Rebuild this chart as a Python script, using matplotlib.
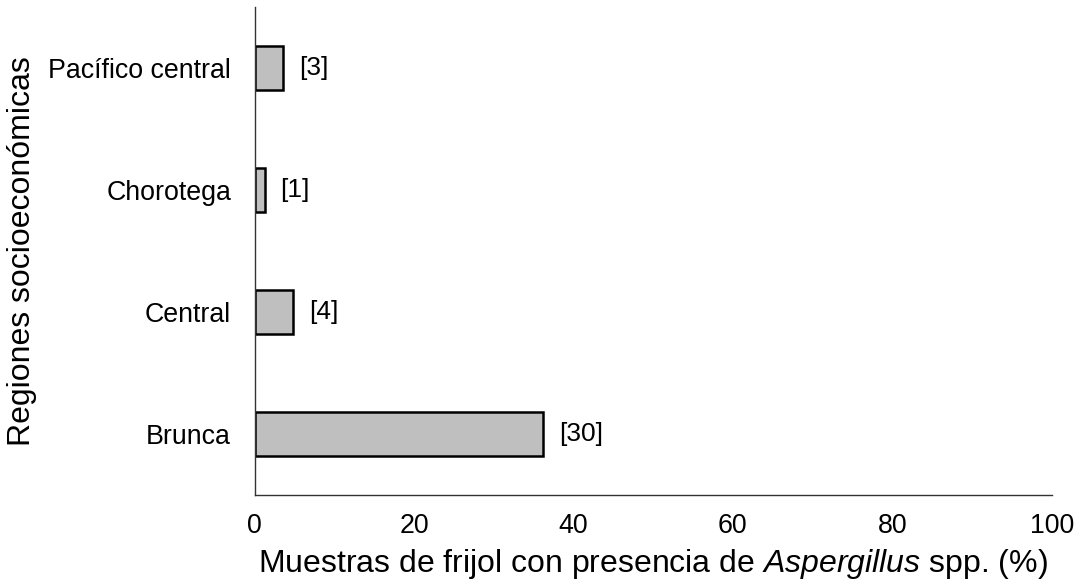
import matplotlib.pyplot as plt

plt.rcParams['font.family'] = ['Liberation Sans', 'DejaVu Sans']
plt.rcParams['mathtext.fontset'] = 'custom'
plt.rcParams['mathtext.it'] = 'Liberation Sans:italic'
plt.rcParams['mathtext.rm'] = 'Liberation Sans'

# data
regiones = ['Brunca', 'Central', 'Chorotega', 'Pacífico central']
porcentaje = [36.2, 4.85, 1.25, 3.6]
n_muestras = [30, 4, 1, 3]

fig = plt.figure(figsize=(10.8, 5.87), dpi=100)
ax = fig.add_axes([0.2358, 0.1567, 0.738, 0.8313])

bars = ax.barh(regiones, porcentaje, height=0.36, color='#bfbfbf',
               edgecolor='black', linewidth=1.8)

# sample counts next to each bar
for b, n in zip(bars, n_muestras):
    ax.text(b.get_width() + 2.0, b.get_y() + b.get_height() / 2, '[%d]' % n,
            va='center', ha='left', fontsize=19)

ax.set_xlim(0, 100)
ax.set_ylim(-0.5, 3.5)
ax.set_xticks([0, 20, 40, 60, 80, 100])

ax.spines['top'].set_visible(False)
ax.spines['right'].set_visible(False)
ax.spines['left'].set_color('#333333')
ax.spines['bottom'].set_color('#333333')
ax.spines['left'].set_linewidth(1.0)
ax.spines['bottom'].set_linewidth(1.0)

ax.tick_params(axis='both', length=0, labelsize=19.3)
ax.tick_params(axis='y', pad=17)
ax.tick_params(axis='x', pad=13)

ax.set_xlabel('Muestras de frijol con presencia de $\\it{Aspergillus}$ spp. (%)',
              fontsize=23, labelpad=6)
ax.set_ylabel('Regiones socioeconómicas', fontsize=23, labelpad=8)

fig.savefig('out.png', dpi=100)
